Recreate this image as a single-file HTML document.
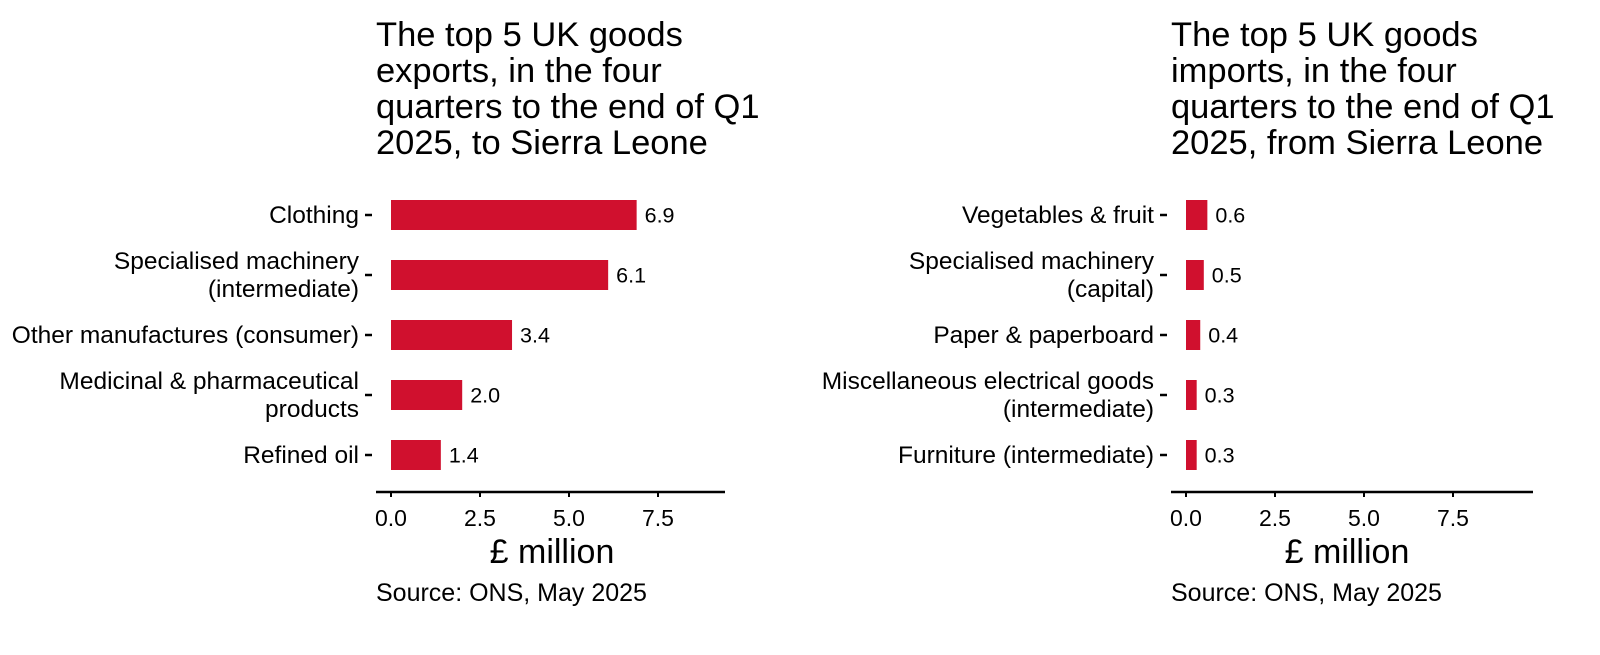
<!DOCTYPE html>
<html><head><meta charset="utf-8"><style>
body{margin:0;background:#fff;width:1600px;height:655px;overflow:hidden;font-family:"Liberation Sans",sans-serif}
svg{display:block}
svg text{font-family:"Liberation Sans",sans-serif}
</style></head><body>
<svg id="c" width="1600" height="655" xmlns="http://www.w3.org/2000/svg"></svg>
<script>
const expCats=[["Clothing"],["Specialised machinery","(intermediate)"],["Other manufactures (consumer)"],["Medicinal & pharmaceutical","products"],["Refined oil"]];
const expVals=[6.9,6.1,3.4,2.0,1.4];
const impCats=[["Vegetables & fruit"],["Specialised machinery","(capital)"],["Paper & paperboard"],["Miscellaneous electrical goods","(intermediate)"],["Furniture (intermediate)"]];
const impVals=[0.6,0.5,0.4,0.3,0.3];
const ticks=[0,2.5,5,7.5];
const tickLabels=["0.0","2.5","5.0","7.5"];
const titles=[["The top 5 UK goods","exports, in the four","quarters to the end of Q1","2025, to Sierra Leone"],["The top 5 UK goods","imports, in the four","quarters to the end of Q1","2025, from Sierra Leone"]];
const svg=document.getElementById('c');
const NS="http://www.w3.org/2000/svg";
function mk(t,a,txt){const e=document.createElementNS(NS,t);for(const k in a)e.setAttribute(k,a[k]);if(txt!=null)e.textContent=txt;svg.appendChild(e);return e;}
function panel(px,cats,vals,title,key){
  const x0=px+15, sc=35.6;
  const xs=v=>x0+v*sc;
  const ys=i=>215+i*60;
  title.forEach((l,i)=>{const t=mk('text',{x:px,y:46+i*36,'font-size':34.5,fill:'#000'},l);
    });
  cats.forEach((c,i)=>{
    const y=ys(i);
    const r=mk('rect',{x:xs(0),y:y-15,width:xs(vals[i])-xs(0),height:30,fill:'#d0102e'});
    
    const v=mk('text',{x:xs(vals[i])+8,y:y+7.5,'font-size':21.5,fill:'#000'},vals[i].toFixed(1));
    
    mk('line',{x1:px-11,x2:px-4,y1:y,y2:y,stroke:'#000','stroke-width':2.5});
    const off=c.length===1?8:-6;
    c.forEach((l,j)=>{const t=mk('text',{x:px-17,y:y+off+j*28,'font-size':24.5,'text-anchor':'end',fill:'#000'},l);
      });
  });
  const ax=mk('line',{x1:px,x2:px+349+(key==='imports'?13:0),y1:492,y2:492,stroke:'#000','stroke-width':2.5});
  
  ticks.forEach((t,i)=>{
    mk('line',{x1:xs(t),x2:xs(t),y1:492,y2:497,stroke:'#000','stroke-width':2});
    const e=mk('text',{x:xs(t),y:526,'font-size':23,'text-anchor':'middle',fill:'#000'},tickLabels[i]);
    
  });
  const at=mk('text',{x:px+176,y:563,'font-size':34,'text-anchor':'middle',fill:'#000'},'£ million');
  
  const s=mk('text',{x:px,y:601,'font-size':25,fill:'#000'},'Source: ONS, May 2025');
  
}
panel(376,expCats,expVals,titles[0],'exports');
panel(1171,impCats,impVals,titles[1],'imports');
</script>
</body></html>
